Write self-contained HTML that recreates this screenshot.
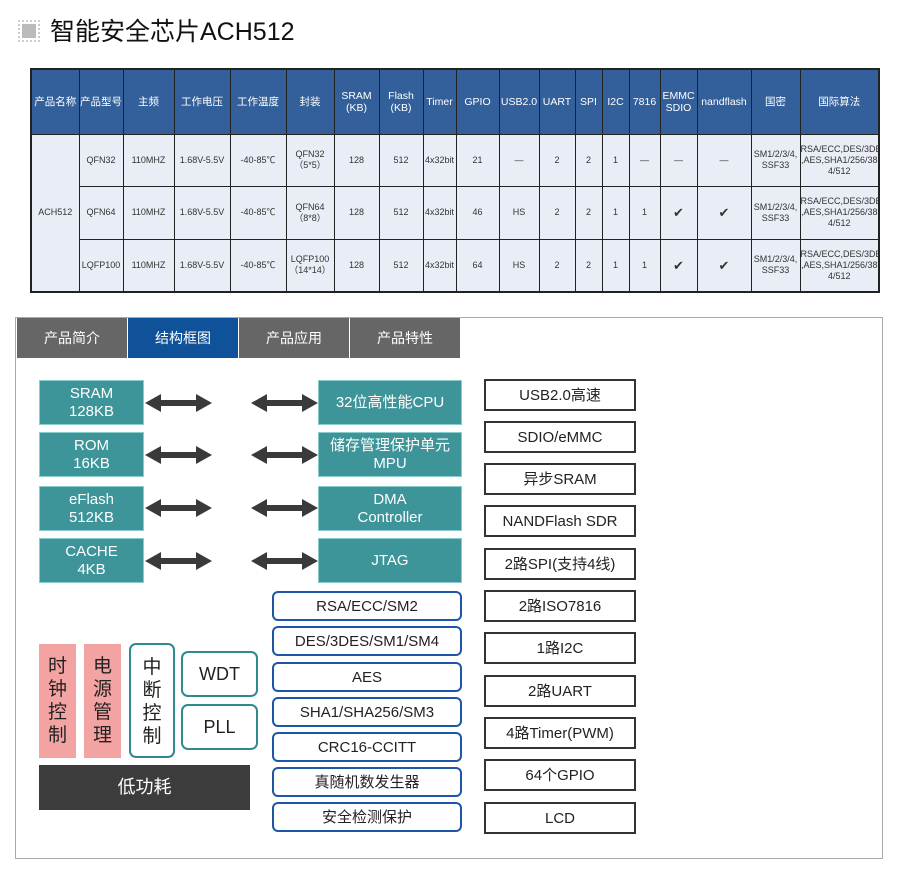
<!DOCTYPE html>
<html><head><meta charset="utf-8"><style>
*{margin:0;padding:0;box-sizing:border-box}
body{width:901px;height:875px;background:#fff;position:relative;font-family:"Liberation Sans","Noto Sans CJK SC",sans-serif;overflow:hidden}
.a{position:absolute}
table{position:absolute;left:30px;top:68px;width:849px;border-collapse:collapse;table-layout:fixed;border:2px solid #222}
td{border:1px solid #222;text-align:center;vertical-align:middle;font-size:9px;color:#333;background:#e9edf5;line-height:11px;overflow:hidden;white-space:nowrap}
tr.h td{background:#335f9a;color:#fff;font-size:10.5px;height:65px;line-height:12px}
tr.r td{height:52.5px}
.tab{position:absolute;top:318px;height:40px;width:110px;background:#666;color:#fff;font-size:14px;text-align:center;line-height:40px}
.tl{position:absolute;background:#3d9499;color:#fff;font-size:15px;text-align:center;display:flex;align-items:center;justify-content:center;line-height:18px;border:1px solid #8cc}
.bb{position:absolute;left:272px;width:190px;height:30px;border:2px solid #1b56a8;border-radius:6px;font-size:15px;text-align:center;line-height:28px;color:#222}
.rb{position:absolute;left:484px;width:152px;height:32px;border:2px solid #333;font-size:15px;text-align:center;line-height:30px;color:#222}
.pk{position:absolute;background:#f4a3a3;color:#222;font-size:19px;text-align:center;line-height:23px;display:flex;align-items:center;justify-content:center;width:37px}
</style></head><body>
<div class="a" style="left:18px;top:20px;width:22px;height:22px;border:2px dotted #ccc;"></div>
<div class="a" style="left:22px;top:24px;width:14px;height:14px;background:#bbb"></div>
<div class="a" style="left:50px;top:14px;font-size:25px;color:#111;line-height:36px">智能安全芯片ACH512</div>

<table>
<colgroup><col style="width:48px"><col style="width:44px"><col style="width:51px"><col style="width:56px"><col style="width:56px"><col style="width:48px"><col style="width:45px"><col style="width:44px"><col style="width:33px"><col style="width:43px"><col style="width:40px"><col style="width:36px"><col style="width:27px"><col style="width:27px"><col style="width:31px"><col style="width:37px"><col style="width:54px"><col style="width:49px"><col style="width:79px"></colgroup>
<tr class="h"><td>产品名称</td><td>产品型号</td><td>主频</td><td>工作电压</td><td>工作温度</td><td>封装</td><td>SRAM<br>(KB)</td><td>Flash<br>(KB)</td><td>Timer</td><td>GPIO</td><td>USB2.0</td><td>UART</td><td>SPI</td><td>I2C</td><td>7816</td><td>EMMC<br>SDIO</td><td>nandflash</td><td>国密</td><td>国际算法</td></tr>
<tr class="r"><td rowspan="3">ACH512</td><td>QFN32</td><td>110MHZ</td><td>1.68V-5.5V</td><td>-40-85℃</td><td>QFN32<br>（5*5）</td><td>128</td><td>512</td><td>4x32bit</td><td>21</td><td>—</td><td>2</td><td>2</td><td>1</td><td>—</td><td>—</td><td>—</td><td>SM1/2/3/4,<br>SSF33</td><td>RSA/ECC,DES/3DES<br>,AES,SHA1/256/38<br>4/512</td></tr>
<tr class="r"><td>QFN64</td><td>110MHZ</td><td>1.68V-5.5V</td><td>-40-85℃</td><td>QFN64<br>（8*8）</td><td>128</td><td>512</td><td>4x32bit</td><td>46</td><td>HS</td><td>2</td><td>2</td><td>1</td><td>1</td><td style="font-size:13px">✔</td><td style="font-size:13px">✔</td><td>SM1/2/3/4,<br>SSF33</td><td>RSA/ECC,DES/3DES<br>,AES,SHA1/256/38<br>4/512</td></tr>
<tr class="r"><td>LQFP100</td><td>110MHZ</td><td>1.68V-5.5V</td><td>-40-85℃</td><td>LQFP100<br>（14*14）</td><td>128</td><td>512</td><td>4x32bit</td><td>64</td><td>HS</td><td>2</td><td>2</td><td>1</td><td>1</td><td style="font-size:13px">✔</td><td style="font-size:13px">✔</td><td>SM1/2/3/4,<br>SSF33</td><td>RSA/ECC,DES/3DES<br>,AES,SHA1/256/38<br>4/512</td></tr>
</table>

<div class="a" style="left:15px;top:317px;width:868px;height:542px;border:1px solid #aaa"></div>
<div class="tab" style="left:17px">产品简介</div>
<div class="tab" style="left:128px;background:#0f5299">结构框图</div>
<div class="tab" style="left:239px">产品应用</div>
<div class="tab" style="left:350px">产品特性</div>

<div class="tl" style="left:39px;top:380px;width:105px;height:45px">SRAM<br>128KB</div>
<div class="tl" style="left:39px;top:432px;width:105px;height:45px">ROM<br>16KB</div>
<div class="tl" style="left:39px;top:486px;width:105px;height:45px">eFlash<br>512KB</div>
<div class="tl" style="left:39px;top:538px;width:105px;height:45px">CACHE<br>4KB</div>
<div class="tl" style="left:318px;top:380px;width:144px;height:45px">32位高性能CPU</div>
<div class="tl" style="left:318px;top:432px;width:144px;height:45px">储存管理保护单元<br>MPU</div>
<div class="tl" style="left:318px;top:486px;width:144px;height:45px">DMA<br>Controller</div>
<div class="tl" style="left:318px;top:538px;width:144px;height:45px">JTAG</div>

<svg class="a" style="left:0;top:0" width="901" height="875">
<defs><path id="ar" d="M0,0 L16,-9 L16,-3 L51,-3 L51,-9 L67,0 L51,9 L51,3 L16,3 L16,9 Z" fill="#3a3a3a"/></defs>
<use href="#ar" x="145" y="403"/><use href="#ar" x="251" y="403"/>
<use href="#ar" x="145" y="455"/><use href="#ar" x="251" y="455"/>
<use href="#ar" x="145" y="508"/><use href="#ar" x="251" y="508"/>
<use href="#ar" x="145" y="561"/><use href="#ar" x="251" y="561"/>
</svg>

<div class="bb" style="top:591px">RSA/ECC/SM2</div>
<div class="bb" style="top:626px">DES/3DES/SM1/SM4</div>
<div class="bb" style="top:662px">AES</div>
<div class="bb" style="top:697px">SHA1/SHA256/SM3</div>
<div class="bb" style="top:732px">CRC16-CCITT</div>
<div class="bb" style="top:767px">真随机数发生器</div>
<div class="bb" style="top:802px">安全检测保护</div>

<div class="pk" style="left:39px;top:644px;height:114px">时<br>钟<br>控<br>制</div>
<div class="pk" style="left:84px;top:644px;height:114px">电<br>源<br>管<br>理</div>
<div class="a" style="left:129px;top:643px;width:46px;height:115px;border:2px solid #2e8a8c;border-radius:7px;font-size:19px;line-height:23px;text-align:center;padding-top:11px;color:#222">中<br>断<br>控<br>制</div>
<div class="a" style="left:181px;top:651px;width:77px;height:46px;border:2px solid #2e8a8c;border-radius:7px;font-size:18px;line-height:42px;text-align:center;color:#222">WDT</div>
<div class="a" style="left:181px;top:704px;width:77px;height:46px;border:2px solid #2e8a8c;border-radius:7px;font-size:18px;line-height:42px;text-align:center;color:#222">PLL</div>
<div class="a" style="left:39px;top:765px;width:211px;height:45px;background:#3c3c3c;color:#fff;font-size:18px;line-height:45px;text-align:center">低功耗</div>

<div class="rb" style="top:379px">USB2.0高速</div>
<div class="rb" style="top:421px">SDIO/eMMC</div>
<div class="rb" style="top:463px">异步SRAM</div>
<div class="rb" style="top:505px">NANDFlash SDR</div>
<div class="rb" style="top:548px">2路SPI(支持4线)</div>
<div class="rb" style="top:590px">2路ISO7816</div>
<div class="rb" style="top:632px">1路I2C</div>
<div class="rb" style="top:675px">2路UART</div>
<div class="rb" style="top:717px">4路Timer(PWM)</div>
<div class="rb" style="top:759px">64个GPIO</div>
<div class="rb" style="top:802px">LCD</div>
</body></html>
